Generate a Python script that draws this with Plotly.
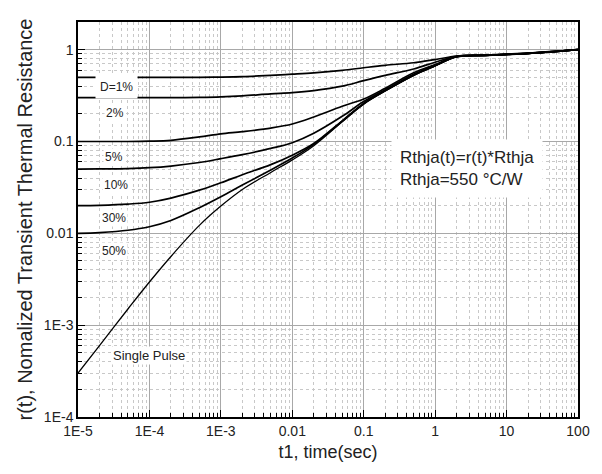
import plotly.graph_objects as go
import math

# ---- data ----
t_sec = [1e-5, 2e-5, 5e-5, 1e-4, 2e-4, 5e-4, 1e-3, 2e-3, 5e-3, 0.01, 0.02, 0.05,
         0.1, 0.2, 0.5, 1, 2, 5, 10, 20, 50, 100]

r_d1 = [0.5, 0.5, 0.5, 0.5, 0.5, 0.5, 0.502, 0.508, 0.525, 0.54, 0.558, 0.595,
        0.635, 0.675, 0.72, 0.78, 0.85, 0.872, 0.892, 0.915, 0.96, 1.0]
r_d2 = [0.3, 0.3, 0.3, 0.3, 0.3, 0.302, 0.306, 0.314, 0.33, 0.34, 0.358, 0.40,
        0.46, 0.525, 0.615, 0.73, 0.845, 0.869, 0.89, 0.913, 0.958, 1.0]
r_d5 = [0.1, 0.1, 0.1, 0.1008, 0.103, 0.112, 0.121, 0.128, 0.14, 0.155, 0.185, 0.242,
        0.29, 0.38, 0.56, 0.69, 0.842, 0.867, 0.888, 0.912, 0.957, 1.0]
r_d10 = [0.05, 0.0502, 0.0507, 0.0518, 0.054, 0.059, 0.065, 0.072, 0.084, 0.097, 0.123, 0.188,
         0.272, 0.365, 0.54, 0.675, 0.84, 0.866, 0.887, 0.911, 0.956, 1.0]
r_d30 = [0.02, 0.0202, 0.0208, 0.0218, 0.0242, 0.0295, 0.0355, 0.0435, 0.056, 0.071, 0.095, 0.168,
         0.26, 0.358, 0.528, 0.67, 0.838, 0.865, 0.886, 0.91, 0.955, 1.0]
r_d50 = [0.01, 0.0102, 0.0108, 0.0118, 0.0138, 0.019, 0.025, 0.0335, 0.049, 0.066, 0.093, 0.166,
         0.258, 0.356, 0.526, 0.668, 0.837, 0.864, 0.885, 0.909, 0.954, 1.0]
r_single = [3.0e-4, 6.0e-4, 1.5e-3, 2.95e-3, 5.6e-3, 0.0122, 0.0198, 0.03, 0.046, 0.063, 0.09, 0.164,
            0.255, 0.354, 0.524, 0.666, 0.836, 0.863, 0.884, 0.908, 0.953, 1.0]

series = [r_d1, r_d2, r_d5, r_d10, r_d30, r_d50, r_single]

x_tickvals = [1e-5, 1e-4, 1e-3, 0.01, 0.1, 1, 10, 100]
x_ticktext = ["1E-5", "1E-4", "1E-3", "0.01", "0.1", "1", "10", "100"]
y_tickvals = [1e-4, 1e-3, 0.01, 0.1, 1]
y_ticktext = ["1E-4", "1E-3", "0.01", "0.1", "1"]

curve_labels = ["D=1%", "2%", "5%", "10%", "30%", "50%", "Single Pulse"]
label_x = [3.43e-5, 3.30e-5, 3.22e-5, 3.43e-5, 3.18e-5, 3.22e-5, 9.8e-5]
label_y = [0.395, 0.206, 0.0682, 0.0336, 0.0146, 0.00643, 4.7e-4]

note_text = "Rthja(t)=r(t)*Rthja<br>Rthja=550 °C/W"

# ---- figure ----
fig = go.Figure()
for i, s in enumerate(series):
    fig.add_trace(go.Scatter(
        x=t_sec, y=s, mode="lines", line_shape="spline",
        line=dict(color="black", width=1.3 if i == 6 else 1.7),
        showlegend=False, hoverinfo="skip"))

minor_x = [m * 10 ** e for e in range(-5, 2) for m in range(2, 10)]
minor_y = [m * 10 ** e for e in range(-4, 1) for m in range(2, 10) if m * 10 ** e < 2.05]

font_family = "Liberation Sans, Arial, sans-serif"

fig.update_xaxes(
    type="log", range=[-5, 2],
    tickmode="array", tickvals=x_tickvals, ticktext=x_ticktext,
    ticks="inside", ticklen=7, tickwidth=1.2, tickcolor="black",
    showline=True, linecolor="black", linewidth=1.5, mirror=True,
    showgrid=True, gridcolor="#a8a8a8", gridwidth=1,
    zeroline=False,
    minor=dict(tickmode="array", tickvals=minor_x, ticks="inside", ticklen=4,
               tickcolor="black", showgrid=True, gridcolor="#c8c8c8",
               griddash="dot", gridwidth=1),
    tickfont=dict(family=font_family, size=14, color="#222"),
    title=dict(text="t1, time(sec)", font=dict(family=font_family, size=18, color="#222"),
               standoff=8),
)
fig.update_yaxes(
    type="log", range=[-4, math.log10(2)],
    tickmode="array", tickvals=y_tickvals, ticktext=y_ticktext,
    ticks="inside", ticklen=7, tickwidth=1.2, tickcolor="black",
    showline=True, linecolor="black", linewidth=1.5, mirror=True,
    showgrid=True, gridcolor="#a8a8a8", gridwidth=1,
    zeroline=False,
    minor=dict(tickmode="array", tickvals=minor_y, ticks="inside", ticklen=4,
               tickcolor="black", showgrid=True, gridcolor="#c8c8c8",
               griddash="dot", gridwidth=1),
    tickfont=dict(family=font_family, size=14, color="#222"),
    title=dict(text="r(t), Nomalized Transient Thermal Resistance",
               font=dict(family=font_family, size=20, color="#222"), standoff=6),
)

for txt, lx, ly in zip(curve_labels, label_x, label_y):
    fig.add_annotation(
        x=math.log10(lx), y=math.log10(ly), text=txt, showarrow=False,
        font=dict(family=font_family, size=13 if txt == "Single Pulse" else 12, color="#222"),
        bgcolor="white", borderpad=4 if txt == "D=1%" else 1)

fig.add_annotation(
    x=math.log10(2.77), y=math.log10(0.0512), text=note_text, showarrow=False,
    align="left", font=dict(family=font_family, size=17, color="#222"),
    bgcolor="white", borderpad=8)

# page body adds an 8px offset, so the figure is sized to fill the rest of the window
fig.update_layout(
    width=594, height=466,
    margin=dict(l=70, r=18, t=14, b=57),
    plot_bgcolor="white", paper_bgcolor="white",
)

fig.write_html("out.html")
